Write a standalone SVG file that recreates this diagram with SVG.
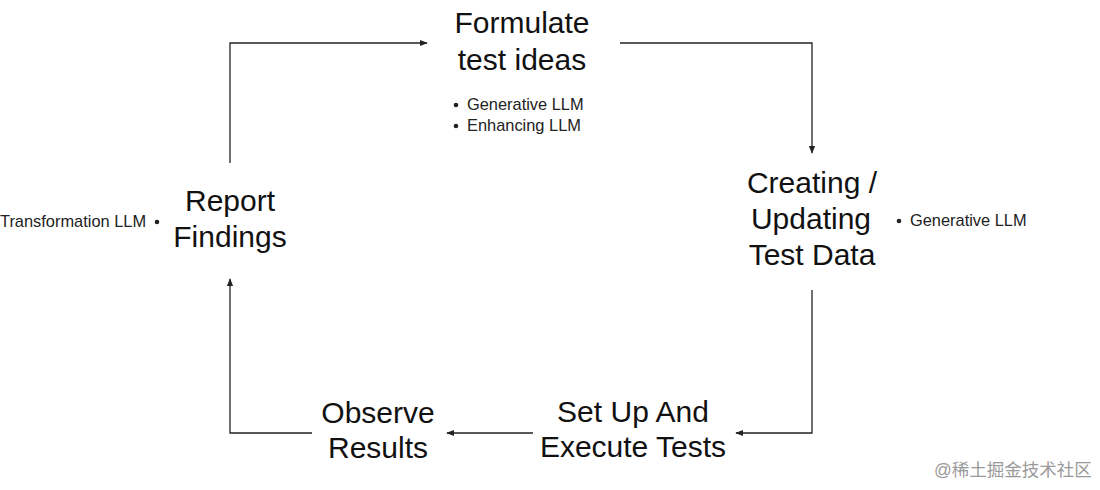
<svg xmlns="http://www.w3.org/2000/svg" width="1100" height="490" viewBox="0 0 1100 490">
<style>
.t{font-family:"Liberation Sans",Arial,sans-serif;font-size:30px;fill:#111;text-anchor:middle}
.s{font-family:"Liberation Sans",Arial,sans-serif;font-size:16.4px;fill:#222}
.c{fill:none;stroke:#222;stroke-width:1.3}
.b{fill:#222}
.wm{font-family:"Liberation Sans","Noto Sans CJK SC",sans-serif;font-size:17.5px;fill:#9a9a9a}
</style>
<defs>
<marker id="ah" viewBox="0 0 10 10" refX="9" refY="5" markerWidth="8" markerHeight="8" markerUnits="userSpaceOnUse" orient="auto">
<path d="M0,1 L10,5 L0,9 Z" fill="#222"/>
</marker>
</defs>
<rect width="1100" height="490" fill="#fff"/>
<g id="connectors">
<path class="c" d="M230,163 V43 H427" marker-end="url(#ah)"/>
<path class="c" d="M620,43 H812 V153" marker-end="url(#ah)"/>
<path class="c" d="M812,290 V433 H736" marker-end="url(#ah)"/>
<path class="c" d="M533,433 H447" marker-end="url(#ah)"/>
<path class="c" d="M312,433 H230 V279" marker-end="url(#ah)"/>
</g>
<g id="formulate">
<text class="t" x="522" y="33">Formulate</text>
<text class="t" x="522" y="70">test ideas</text>
<circle class="b" cx="456" cy="105" r="2.3"/>
<text class="s" x="467" y="110">Generative LLM</text>
<circle class="b" cx="456" cy="126" r="2.3"/>
<text class="s" x="467" y="131">Enhancing LLM</text>
</g>
<g id="creating">
<text class="t" x="812" y="193">Creating /</text>
<text class="t" x="811" y="229">Updating</text>
<text class="t" x="812" y="265">Test Data</text>
<circle class="b" cx="899" cy="221" r="2.3"/>
<text class="s" x="910" y="226">Generative LLM</text>
</g>
<g id="setup">
<text class="t" x="633" y="422">Set Up And</text>
<text class="t" x="633" y="457">Execute Tests</text>
</g>
<g id="observe">
<text class="t" x="378" y="423">Observe</text>
<text class="t" x="378" y="458">Results</text>
</g>
<g id="report">
<text class="t" x="230" y="211">Report</text>
<text class="t" x="230" y="247">Findings</text>
<text class="s" x="0" y="227">Transformation LLM</text>
<circle class="b" cx="157" cy="222" r="2.3"/>
</g>
<text class="wm" x="934" y="476">@稀土掘金技术社区</text>
</svg>
